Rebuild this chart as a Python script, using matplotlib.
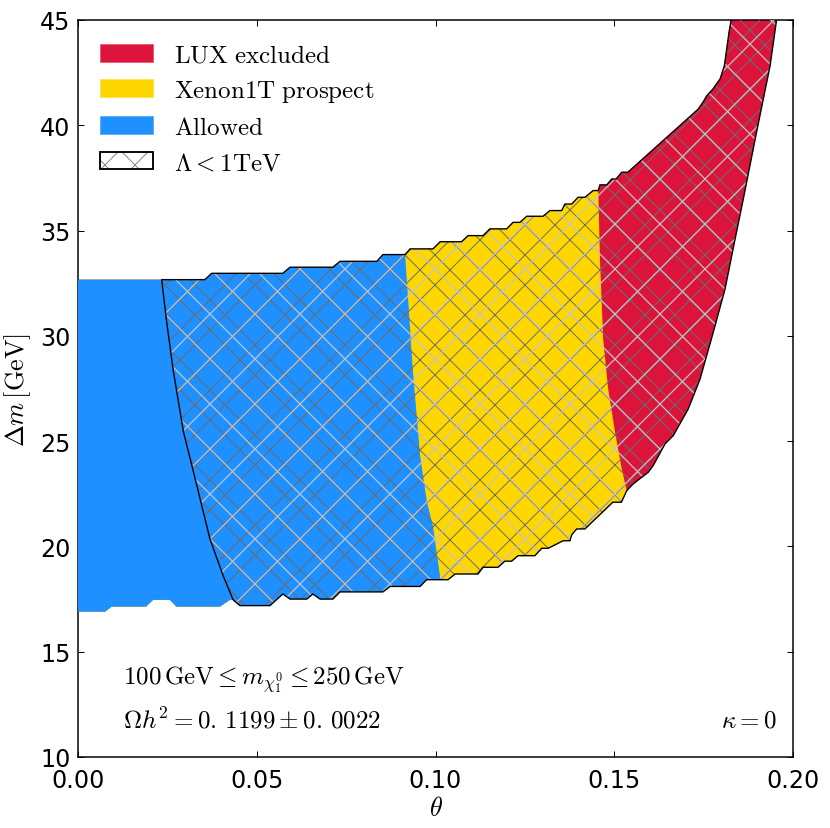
import numpy as np
import matplotlib
matplotlib.use("Agg")
import matplotlib.pyplot as plt
from matplotlib.patches import Polygon, Patch
from matplotlib.lines import Line2D
from matplotlib.transforms import IdentityTransform
from matplotlib.legend_handler import HandlerTuple

# ---------------- data (theta, delta m [GeV]) ----------------
# upper boundary of the viable region (left -> right)
top_theta = [0.0000, 0.0234, 0.0355, 0.0374, 0.0573, 0.0593, 0.0713, 0.0733, 0.0836, 0.0853,
             0.0915, 0.0929, 0.0993, 0.1013, 0.1073, 0.1091, 0.1133, 0.1152, 0.1199, 0.1217,
             0.1236, 0.1255, 0.1301, 0.1320, 0.1353, 0.1362, 0.1381, 0.1399, 0.1418, 0.1441,
             0.1455, 0.1460, 0.1479, 0.1493, 0.1505, 0.1521, 0.1538, 0.1735, 0.1748, 0.1759,
             0.1776, 0.1796, 0.1808, 0.1821, 0.1827, 0.1830]
top_dm = [32.67, 32.67, 32.67, 32.97, 32.97, 33.26, 33.26, 33.54, 33.54, 33.86,
          33.86, 34.13, 34.13, 34.47, 34.47, 34.76, 34.76, 35.08, 35.08, 35.39,
          35.39, 35.68, 35.68, 35.95, 35.95, 36.26, 36.26, 36.58, 36.58, 36.90,
          36.90, 37.17, 37.17, 37.45, 37.45, 37.77, 37.77, 40.77, 41.09, 41.41,
          41.72, 42.20, 42.83, 44.42, 45.00, 46.00]

# right boundary (top -> bottom)
right_theta = [0.1962, 0.1954, 0.1936, 0.1898, 0.1861, 0.1838, 0.1810, 0.1777, 0.1740,
               0.1707, 0.1665, 0.1642, 0.1609, 0.1595, 0.1553, 0.1535]
right_dm = [46.00, 45.00, 42.83, 39.67, 36.50, 34.60, 32.23, 30.17, 27.95,
            26.53, 25.26, 24.87, 23.84, 23.52, 22.97, 22.65]

# lower boundary (left -> right)
bot_theta = [0.0000, 0.0076, 0.0094, 0.0190, 0.0210, 0.0257, 0.0275, 0.0397, 0.0425, 0.0434,
             0.0453, 0.0537, 0.0573, 0.0593, 0.0640, 0.0657, 0.0677, 0.0713, 0.0733, 0.0853,
             0.0873, 0.0957, 0.0975, 0.1035, 0.1055, 0.1119, 0.1133, 0.1175, 0.1194, 0.1213,
             0.1231, 0.1278, 0.1297, 0.1315, 0.1357, 0.1376, 0.1381, 0.1395, 0.1418, 0.1496,
             0.1520, 0.1535]
bot_dm = [16.90, 16.90, 17.14, 17.14, 17.46, 17.46, 17.14, 17.14, 17.46, 17.46,
          17.19, 17.19, 17.74, 17.50, 17.50, 17.74, 17.50, 17.50, 17.84, 17.84,
          18.10, 18.10, 18.42, 18.42, 18.69, 18.69, 19.01, 19.01, 19.30, 19.30,
          19.56, 19.56, 19.91, 19.91, 20.27, 20.27, 20.55, 20.83, 20.83, 22.10,
          22.10, 22.65]

# Lambda = 1 TeV contour (top -> bottom)
lam_theta = [0.0234, 0.0248, 0.0267, 0.0295, 0.0323, 0.0369, 0.0406, 0.0434]
lam_dm = [32.67, 30.66, 28.29, 25.44, 23.54, 20.36, 18.61, 17.46]

# Allowed / Xenon1T boundary (top -> bottom)
xen_theta = [0.0915, 0.0937, 0.0957, 0.0976, 0.0993, 0.1013]
xen_dm = [33.86, 28.29, 24.30, 22.11, 20.97, 18.55]

# Xenon1T / LUX boundary (top -> bottom)
lux_theta = [0.1455, 0.1460, 0.1469, 0.1483, 0.1502, 0.1521, 0.1535]
lux_dm = [37.17, 33.65, 29.85, 27.48, 25.44, 23.68, 22.64]

labels = [r'$\mathrm{LUX\ excluded}$', r'$\mathrm{Xenon1T\ prospect}$',
          r'$\mathrm{Allowed}$', r'$\Lambda < 1\mathrm{TeV}$']
colors = ['#DC143C', '#FFD700', '#1E90FF']

xticks = [0.00, 0.05, 0.10, 0.15, 0.20]
yticks = [10, 15, 20, 25, 30, 35, 40, 45]

# ---------------- style ----------------
plt.rcParams['mathtext.fontset'] = 'cm'
plt.rcParams['font.family'] = ['DejaVu Sans']
plt.rcParams['hatch.linewidth'] = 0.8

W, H, DPI = 831, 829, 90
fig = plt.figure(figsize=(W / DPI, H / DPI), dpi=DPI)
ax = fig.add_axes([78 / W, (H - 758) / H, (793 - 78) / W, (758 - 21) / H])
ax.set_xlim(0, 0.2)
ax.set_ylim(10, 45)

top = np.column_stack([top_theta, top_dm])
right = np.column_stack([right_theta, right_dm])
bot = np.column_stack([bot_theta, bot_dm])
outer_xy = np.vstack([top, right, bot[::-1]])
outer = Polygon(outer_xy, closed=True, facecolor='none', edgecolor='none')
ax.add_patch(outer)


def left_of(th, dm, lo=-1.0):
    th = np.asarray(th); dm = np.asarray(dm)
    pts = [(lo, dm[0] + 20), (th[0], dm[0] + 20)]
    pts += list(zip(th, dm))
    pts += [(th[-1], dm[-1] - 20), (lo, dm[-1] - 20)]
    return pts


# red everywhere, yellow left of LUX line, blue left of Xenon line
red = Polygon(outer_xy, closed=True, facecolor=colors[0], edgecolor='none', zorder=1)
ax.add_patch(red)
yel = Polygon(left_of(lux_theta, lux_dm), closed=True, facecolor=colors[1],
              edgecolor='none', zorder=2)
ax.add_patch(yel)
yel.set_clip_path(outer)
blu = Polygon(left_of(xen_theta, xen_dm), closed=True, facecolor=colors[2],
              edgecolor='none', zorder=3)
ax.add_patch(blu)
blu.set_clip_path(outer)

# hatched region (Lambda < 1 TeV)
tt = np.asarray(top_theta); bt = np.asarray(bot_theta)
hatch_xy = np.vstack([
    np.column_stack([lam_theta[::-1], lam_dm[::-1]]),
    top[tt > lam_theta[0]],
    right,
    bot[bt > lam_theta[-1]][::-1],
])
hatch_fine = Polygon(hatch_xy, closed=True, facecolor='none', edgecolor='#6c6c6c',
                     hatch='x', linewidth=0, zorder=4)
ax.add_patch(hatch_fine)

# coarser light lines of the hatch (drawn in pixel space)
ident = IdentityTransform()
xs = np.array([-1000.0, 2000.0])
for k in range(-60, 60):
    c1 = 11 + 45 * k
    l1 = Line2D(xs, xs - c1, transform=ident, color='#c4c4c4', lw=1.0, zorder=5)
    c2 = 4 + 45 * k
    l2 = Line2D(xs, c2 - xs, transform=ident, color='#c4c4c4', lw=1.0, zorder=5)
    for ln in (l1, l2):
        ax.add_line(ln)
        ln.set_clip_path(hatch_fine)

outline = Polygon(hatch_xy, closed=True, facecolor='none', edgecolor='black',
                  linewidth=1.1, zorder=6)
ax.add_patch(outline)

# ---------------- axes ----------------
ax.set_xticks(xticks)
ax.set_yticks(yticks)
ax.set_xticklabels(['%.2f' % v for v in xticks])
ax.set_yticklabels(['%d' % v for v in yticks])
ax.tick_params(direction='in', top=True, right=True, length=5, width=0.8,
               labelsize=19)
ax.tick_params(axis='x', pad=9)
ax.tick_params(axis='y', pad=6)
for s in ax.spines.values():
    s.set_linewidth(1.2)

ax.set_xlabel(r'$\theta$', fontsize=21)
ax.xaxis.set_label_coords(0.5, -0.052)
ax.set_ylabel(r'$\Delta m\,[\mathrm{GeV}]$', fontsize=21)
ax.yaxis.set_label_coords(-0.063, 0.5)

# ---------------- legend ----------------
handles = [Patch(facecolor=colors[0], edgecolor='#e8506e', lw=0.6),
           Patch(facecolor=colors[1], edgecolor='#ffe040', lw=0.6),
           Patch(facecolor=colors[2], edgecolor='#50a8ff', lw=0.6),
           (Patch(facecolor='white', edgecolor='#8a8a8a', hatch='x', lw=0),
            Patch(facecolor='none', edgecolor='black', lw=1.5))]
leg = ax.legend(handles, labels, loc='upper left', frameon=False, fontsize=20,
                handlelength=2.08, handleheight=0.72, handletextpad=0.84,
                labelspacing=0.45, handler_map={tuple: HandlerTuple(ndivide=1)})
leg.set_zorder(10)

# ---------------- annotations ----------------
ax.text(0.0125, 13.7, r'$100\,\mathrm{GeV} \leq m_{\chi_1^0} \leq 250\,\mathrm{GeV}$',
        fontsize=20, va='center', ha='left', zorder=10)
ax.text(0.0125, 11.8, r'$\Omega h^2 = 0.\,1199 \pm 0.\,0022$',
        fontsize=20, va='center', ha='left', zorder=10)
ax.text(0.1955, 11.8, r'$\kappa = 0$', fontsize=20, va='center', ha='right', zorder=10)

fig.savefig('out.png', dpi=DPI)
